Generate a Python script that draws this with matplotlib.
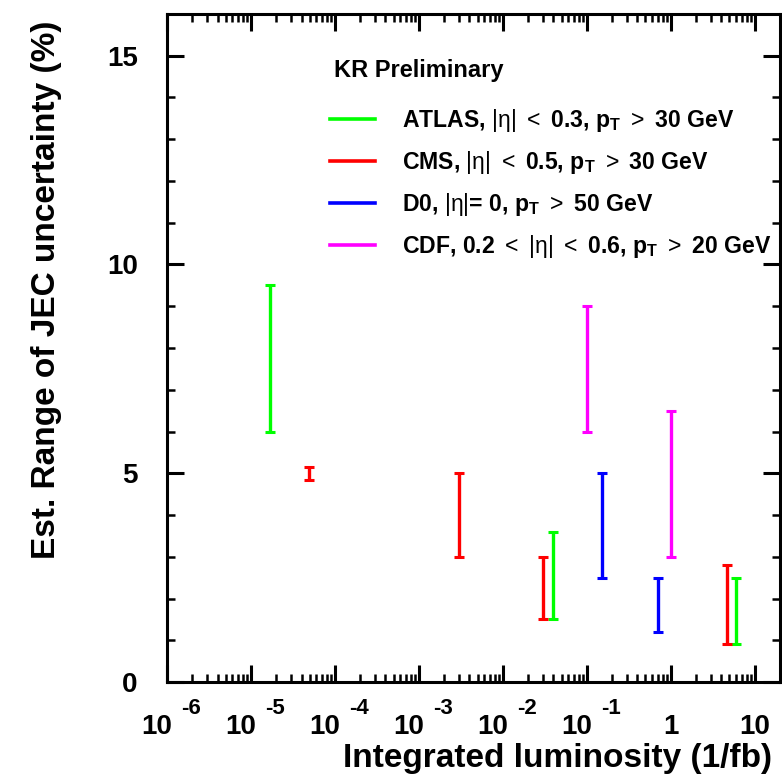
import matplotlib
matplotlib.use("Agg")
import matplotlib.pyplot as plt
import matplotlib.transforms as mtransforms
from matplotlib.lines import Line2D
from matplotlib.ticker import LogLocator, MultipleLocator, NullFormatter

plt.rcParams['font.family'] = ['Liberation Sans', 'DejaVu Sans']
plt.rcParams['font.weight'] = 'bold'
plt.rcParams['mathtext.fontset'] = 'custom'
plt.rcParams['mathtext.rm'] = 'Liberation Sans:weight=bold'
plt.rcParams['mathtext.it'] = 'Liberation Sans:weight=bold'
plt.rcParams['mathtext.bf'] = 'Liberation Sans:weight=bold'
plt.rcParams['mathtext.sf'] = 'Liberation Sans:weight=normal'

# data: luminosity (1/fb), lower and upper JEC uncertainty (%)
atlas_lumi = [1.7e-5, 0.04, 6.0]
atlas_lo = [6.0, 1.5, 0.9]
atlas_hi = [9.5, 3.6, 2.5]

cms_lumi = [4.9e-5, 3.0e-3, 0.03, 4.7]
cms_lo = [4.85, 3.0, 1.5, 0.9]
cms_hi = [5.15, 5.0, 3.0, 2.8]

d0_lumi = [0.15, 0.7]
d0_lo = [2.5, 1.2]
d0_hi = [5.0, 2.5]

cdf_lumi = [0.1, 1.0]
cdf_lo = [6.0, 3.0]
cdf_hi = [9.0, 6.5]

labels = [r"ATLAS, $\mathsf{|\eta|}$ $\mathsf{<}$ 0.3, p$_{\mathrm{T}}$ $\mathsf{>}$ 30 GeV",
          r"CMS, $\mathsf{|\eta|}$ $\mathsf{<}$ 0.5, p$_{\mathrm{T}}$ $\mathsf{>}$ 30 GeV",
          r"D0, $\mathsf{|\eta|}$= 0, p$_{\mathrm{T}}$ $\mathsf{>}$ 50 GeV",
          r"CDF, 0.2 $\mathsf{<}$ $\mathsf{|\eta|}$ $\mathsf{<}$ 0.6, p$_{\mathrm{T}}$ $\mathsf{>}$ 20 GeV"]
colors = ["#00ff00", "#ff0000", "#0000ff", "#ff00ff"]

xtick_exp = [-6, -5, -4, -3, -2, -1, 0, 1]

fig = plt.figure(figsize=(7.82, 7.76), dpi=100)
ax = fig.add_axes([0.2136, 0.1211, 0.7838, 0.8609])

series = [(atlas_lumi, atlas_lo, atlas_hi),
          (cms_lumi, cms_lo, cms_hi),
          (d0_lumi, d0_lo, d0_hi),
          (cdf_lumi, cdf_lo, cdf_hi)]

for (lumi, lo, hi), c in zip(series, colors):
    mid = [(a + b) / 2 for a, b in zip(lo, hi)]
    err = [(b - a) / 2 for a, b in zip(lo, hi)]
    ax.errorbar(lumi, mid, yerr=err, fmt='none', ecolor=c, elinewidth=2.4,
                capsize=3.3, capthick=2.2)

ax.set_xscale('log')
ax.set_xlim(1e-6, 20)
ax.set_ylim(0, 16)

ax.xaxis.set_major_locator(LogLocator(base=10, numticks=20))
ax.xaxis.set_minor_locator(LogLocator(base=10, subs=range(2, 10), numticks=100))
ax.xaxis.set_major_formatter(NullFormatter())
ax.xaxis.set_minor_formatter(NullFormatter())
ax.yaxis.set_major_locator(MultipleLocator(5))
ax.yaxis.set_minor_locator(MultipleLocator(1))

ax.tick_params(which='both', direction='in', top=True, right=True)
ax.tick_params(which='major', length=12, width=2.2)
ax.tick_params(which='minor', length=6, width=1.8)
ax.tick_params(axis='y', which='major', labelsize=20, pad=21)
for s in ax.spines.values():
    s.set_linewidth(2.2)

# ROOT style x tick labels
base = ax.get_xaxis_transform()
for e in xtick_exp:
    if e < 0:
        tr = mtransforms.offset_copy(base, fig=fig, x=-10, y=-45, units='dots')
        ax.text(10.0 ** e, 0, "10", transform=tr, ha='center', va='center',
                fontsize=20, fontweight='bold')
        tr2 = mtransforms.offset_copy(base, fig=fig, x=14, y=-26, units='dots')
        ax.text(10.0 ** e, 0, str(e), transform=tr2, ha='left', va='center',
                fontsize=16, fontweight='bold')
    else:
        tr = mtransforms.offset_copy(base, fig=fig, x=0, y=-45, units='dots')
        ax.text(10.0 ** e, 0, "%g" % (10.0 ** e), transform=tr, ha='center',
                va='center', fontsize=20, fontweight='bold')

ax.set_xlabel("Integrated luminosity (1/fb)", fontsize=24, fontweight='bold')
ax.xaxis.set_label_coords(0.987, -0.091)
ax.xaxis.label.set_ha('right')
ax.set_ylabel("Est. Range of JEC uncertainty (%)", fontsize=24, fontweight='bold')
ax.yaxis.set_label_coords(-0.171, 0.99)
ax.yaxis.label.set_ha('right')

ax.text(0.272, 0.916, "KR Preliminary", transform=ax.transAxes, ha='left',
        va='center', fontsize=17, fontweight='bold')

handles = [Line2D([], [], color=c, lw=2.6) for c in colors]
leg = ax.legend(handles, labels, loc='upper left', bbox_to_anchor=(0.266, 0.861),
                frameon=False, fontsize=16.6, handlelength=1.95, handletextpad=1.15,
                labelspacing=0.65, borderpad=0, borderaxespad=0)

fig.savefig("out.png", dpi=100)
